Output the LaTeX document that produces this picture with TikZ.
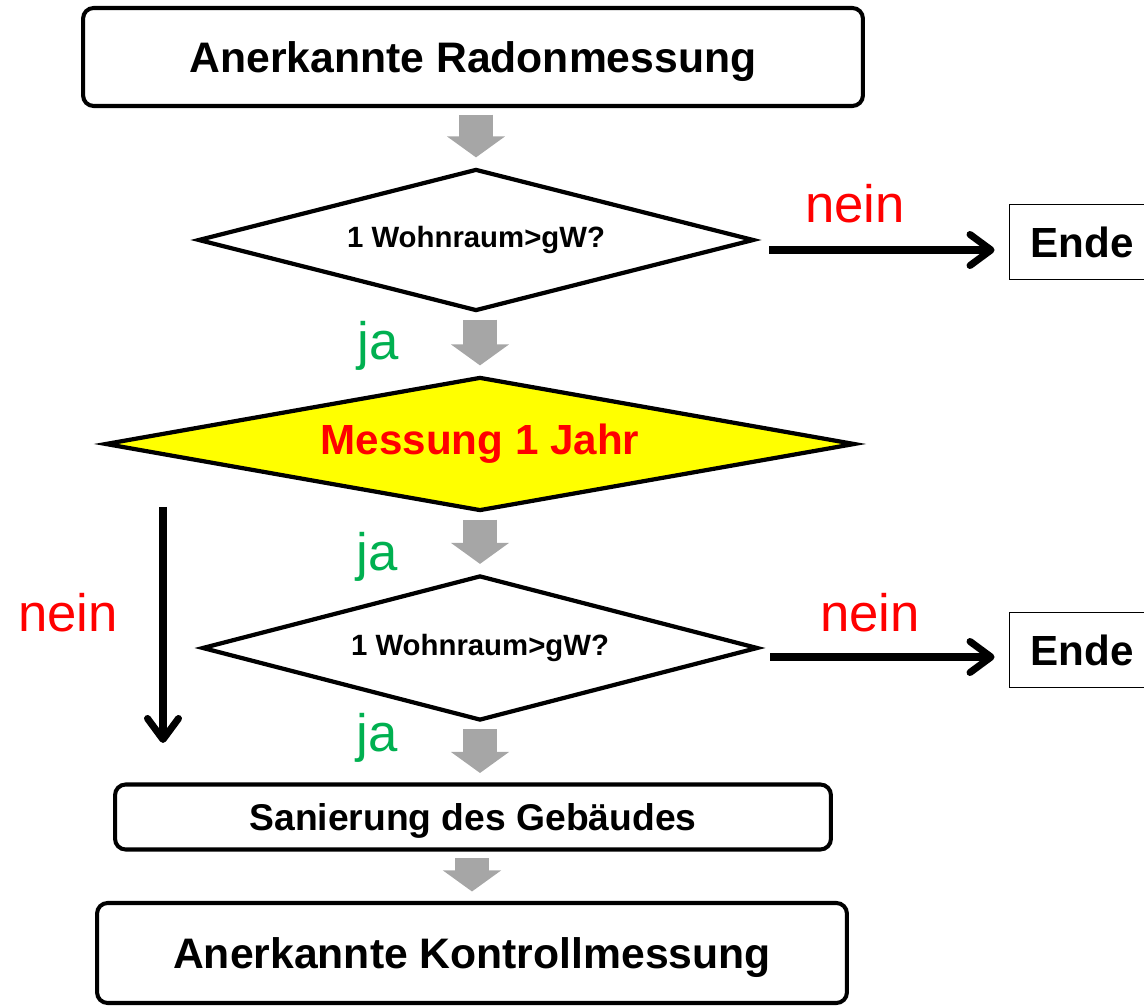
\documentclass[tikz,border=0pt]{standalone}
\usepackage{fontspec}
\setmainfont{Liberation Sans}
\usepackage{xcolor}
\usepackage{tikz}
\usetikzlibrary{positioning,arrows.meta,shapes.geometric,calc}
\definecolor{jagreen}{RGB}{0,176,80}
\definecolor{flowgrey}{RGB}{166,166,166}
\definecolor{condyellow}{RGB}{255,255,0}

\begin{document}
\begin{tikzpicture}[
  x=0.02cm, y=-0.02cm,
  box/.style={draw, line width=2.3pt, rounded corners=6pt, align=center, text depth=0pt,
              font=\bfseries\fontsize{24.3}{28}\selectfont},
  cond/.style={draw, diamond, line width=2.4pt, inner sep=0pt, align=center,
               font=\bfseries\fontsize{16.7}{20}\selectfont},
  endN/.style={draw, line width=1.1pt, minimum width=2.9cm, minimum height=1.5cm,
               font=\bfseries\fontsize{24}{28}\selectfont},
  nein/.style={anchor=base, text=red, font=\fontsize{30}{36}\selectfont},
  ja/.style={anchor=base, text=jagreen, font=\fontsize{30}{36}\selectfont},
  garr/.style={flowgrey, line width=0.68cm,
               -{Triangle[width=1.14cm, length=0.42cm]},
               shorten <=0.13cm, shorten >=0.19cm},
  arr/.style={line width=4pt, -{Straight Barb[round, length=0.42cm, width=0.62cm]}},
]
\useasboundingbox (0,0) rectangle (1144,1006);
\clip (0,0) rectangle (1144,1006);

\node[box, minimum width=15.6cm, minimum height=1.96cm] (rad) at (473,57) {Anerkannte Radonmessung};
\node[cond, aspect=3.9, minimum width=11.12cm, minimum height=2.84cm] (q1) at (476,240) {1 Wohnraum>gW?};
\node[cond, aspect=5.6, fill=condyellow, minimum width=15.0cm, minimum height=2.68cm,
      font=\bfseries\fontsize{24}{28}\selectfont, text=red] (jahr) at (480,444) {Messung 1 Jahr};
\node[cond, aspect=3.8, minimum width=11.12cm, minimum height=2.9cm] (q2) at (480,648) {1 Wohnraum>gW?};
\node[box, minimum width=14.32cm, minimum height=1.3cm,
      font=\bfseries\fontsize{21.2}{25}\selectfont] (san) at (473,817) {Sanierung des Gebäudes};
\node[box, minimum width=15cm, minimum height=2cm] (kon) at (472,953) {Anerkannte Kontrollmessung};
\node[endN] (end1) at (1082,242) {Ende};
\node[endN] (end2) at (1082,650) {Ende};

\node[nein] (n1) at (855,223) {nein};
\node[nein] (n2) at (68,632)  {nein};
\node[nein] (n3) at (870,632) {nein};
\node[ja]   (j1) at (378,360) {ja};
\node[ja]   (j2) at (377,571) {ja};
\node[ja]   (j3) at (377,752) {ja};

\coordinate (nTop) at (163,507);
\coordinate (nBot) at (163,743);

\draw[garr] (q1.north |- rad.south) -- (q1.north);
\draw[garr] (jahr.north |- q1.south) -- (jahr.north);
\draw[garr] (jahr.south) -- (q2.north);
\draw[garr] (q2.south) -- (q2.south |- san.north);
\draw[garr] (kon.north |- san.south) -- (kon.north);

\draw[arr] ([shift={(13,10)}]q1.east) -- ([shift={(-14,8)}]end1.west);
\draw[arr] ([shift={(10,9)}]q2.east) -- ([shift={(-14,7)}]end2.west);
\draw[arr] (nTop) -- (nBot);
\end{tikzpicture}
\end{document}
